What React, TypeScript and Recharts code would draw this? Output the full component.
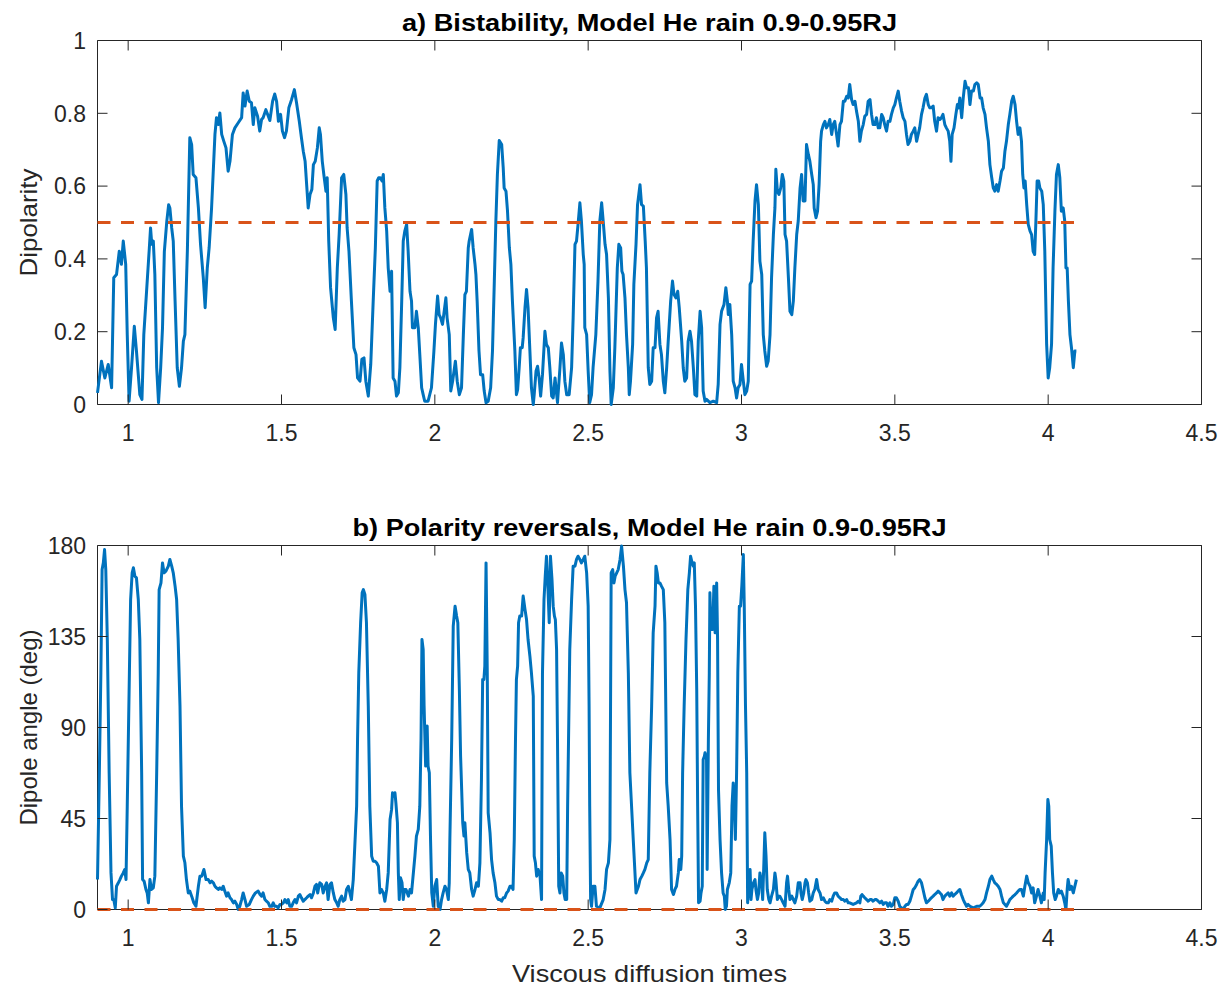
import React from 'react';
import { LineChart, Line, XAxis, YAxis, ReferenceArea } from 'recharts';

// ---- data -------------------------------------------------------------

// Dipolarity vs. time (viscous diffusion times)
const dipolaritySamples: [number, number][] = [
  [0.900,0.032],[0.913,0.119],[0.924,0.073],[0.935,0.110],[0.946,0.046],[0.953,0.348],[0.962,0.357],[0.971,0.421],[0.978,0.385],[0.984,0.449],[0.992,0.385],[0.997,0.192],[1.003,0.009],[1.011,0.101],[1.020,0.215],[1.027,0.147],[1.038,0.027],[1.045,0.014],[1.051,0.192],[1.060,0.311],[1.069,0.430],[1.073,0.485],[1.077,0.440],[1.082,0.449],[1.087,0.357],[1.093,0.101],[1.099,0.005],[1.106,0.101],[1.112,0.211],[1.118,0.421],[1.126,0.504],[1.132,0.549],[1.136,0.540],[1.142,0.485],[1.147,0.449],[1.153,0.284],[1.160,0.101],[1.167,0.050],[1.174,0.101],[1.180,0.174],[1.185,0.192],[1.193,0.421],[1.201,0.733],[1.207,0.714],[1.212,0.632],[1.221,0.623],[1.229,0.540],[1.236,0.440],[1.245,0.348],[1.251,0.266],[1.258,0.375],[1.264,0.430],[1.272,0.540],[1.277,0.632],[1.283,0.742],[1.288,0.788],[1.294,0.769],[1.299,0.801],[1.305,0.742],[1.312,0.723],[1.319,0.705],[1.326,0.641],[1.332,0.668],[1.340,0.742],[1.348,0.760],[1.359,0.774],[1.370,0.788],[1.375,0.856],[1.381,0.820],[1.388,0.861],[1.395,0.833],[1.402,0.829],[1.408,0.769],[1.413,0.815],[1.422,0.792],[1.429,0.751],[1.435,0.783],[1.440,0.788],[1.449,0.810],[1.457,0.792],[1.462,0.780],[1.471,0.833],[1.478,0.853],[1.484,0.833],[1.490,0.778],[1.497,0.797],[1.503,0.751],[1.510,0.733],[1.516,0.751],[1.524,0.815],[1.533,0.838],[1.542,0.865],[1.549,0.829],[1.558,0.778],[1.565,0.733],[1.571,0.696],[1.577,0.668],[1.582,0.604],[1.587,0.540],[1.593,0.577],[1.599,0.591],[1.604,0.659],[1.610,0.668],[1.617,0.705],[1.623,0.760],[1.627,0.742],[1.633,0.668],[1.638,0.632],[1.645,0.586],[1.649,0.623],[1.654,0.449],[1.660,0.321],[1.669,0.238],[1.675,0.206],[1.682,0.375],[1.688,0.467],[1.696,0.623],[1.703,0.632],[1.710,0.577],[1.714,0.485],[1.720,0.421],[1.728,0.284],[1.736,0.156],[1.743,0.137],[1.748,0.073],[1.756,0.064],[1.762,0.124],[1.769,0.128],[1.775,0.064],[1.783,0.023],[1.791,0.110],[1.799,0.284],[1.806,0.430],[1.812,0.614],[1.817,0.623],
  [1.822,0.623],[1.828,0.614],[1.832,0.632],[1.837,0.540],[1.843,0.476],[1.848,0.375],[1.854,0.311],[1.859,0.366],[1.864,0.073],[1.870,0.064],[1.875,0.023],[1.881,0.032],[1.886,0.101],[1.892,0.284],[1.897,0.449],[1.902,0.476],[1.908,0.495],[1.913,0.421],[1.919,0.311],[1.924,0.284],[1.927,0.211],[1.935,0.211],[1.940,0.256],[1.946,0.211],[1.951,0.137],[1.957,0.046],[1.962,0.027],[1.967,0.009],[1.978,0.009],[1.989,0.046],[1.997,0.147],[2.002,0.220],[2.009,0.298],[2.014,0.247],[2.019,0.238],[2.025,0.220],[2.032,0.266],[2.036,0.293],[2.040,0.238],[2.047,0.192],[2.052,0.037],[2.058,0.064],[2.067,0.119],[2.073,0.064],[2.080,0.027],[2.087,0.046],[2.093,0.192],[2.098,0.302],[2.103,0.311],[2.109,0.430],[2.112,0.449],[2.120,0.481],[2.125,0.430],[2.131,0.385],[2.134,0.357],[2.138,0.284],[2.144,0.147],[2.149,0.082],[2.156,0.082],[2.161,0.037],[2.167,0.005],[2.174,0.009],[2.182,0.046],[2.188,0.147],[2.194,0.339],[2.199,0.504],[2.204,0.632],[2.210,0.725],[2.218,0.714],[2.223,0.650],[2.226,0.595],[2.232,0.586],[2.237,0.531],[2.243,0.430],[2.248,0.385],[2.253,0.284],[2.261,0.147],[2.266,0.027],[2.270,0.041],[2.275,0.101],[2.279,0.156],[2.285,0.156],[2.288,0.183],[2.294,0.266],[2.299,0.316],[2.304,0.266],[2.310,0.147],[2.315,0.046],[2.321,0.000],[2.324,0.027],[2.330,0.092],[2.335,0.105],[2.340,0.073],[2.345,0.023],[2.351,0.082],[2.359,0.201],[2.364,0.165],[2.370,0.156],[2.375,0.101],[2.381,0.023],[2.386,0.018],[2.392,0.073],[2.395,0.046],[2.400,0.005],[2.408,0.101],[2.413,0.169],[2.419,0.137],[2.424,0.064],[2.430,0.027],[2.438,0.027],[2.446,0.101],[2.451,0.238],[2.457,0.440],[2.462,0.449],[2.467,0.495],[2.473,0.554],[2.478,0.504],[2.484,0.412],[2.487,0.385],[2.489,0.211],[2.495,0.192],[2.500,0.092],[2.505,0.005],[2.511,0.027],[2.516,0.101],[2.525,0.192],[2.532,0.339],[2.538,0.504],[2.544,0.554],[2.549,0.504],[2.555,0.440],[2.560,0.412],[2.566,0.293],[2.571,0.092],[2.575,0.000],[2.582,0.046],[2.587,0.156],[2.595,0.375],[2.600,0.440],[2.606,0.430],[2.610,0.366],[2.614,0.357],[2.620,0.293],[2.625,0.192],[2.631,0.101],[2.634,0.027],[2.638,0.064],[2.645,0.165],[2.649,0.330],[2.656,0.440],[2.661,0.549],[2.669,0.604],[2.674,0.549],[2.680,0.545],[2.686,0.449],[2.690,0.375],[2.696,0.101],[2.701,0.055],[2.707,0.064],[2.712,0.156],[2.718,0.156],[2.723,0.238],[2.728,0.256],
  [2.734,0.165],[2.739,0.137],[2.745,0.064],[2.750,0.032],[2.756,0.101],[2.761,0.174],[2.769,0.284],[2.775,0.339],[2.780,0.302],[2.786,0.293],[2.792,0.311],[2.797,0.266],[2.805,0.174],[2.810,0.101],[2.815,0.064],[2.821,0.073],[2.826,0.174],[2.832,0.201],[2.837,0.174],[2.843,0.101],[2.848,0.027],[2.854,0.023],[2.859,0.174],[2.865,0.256],[2.870,0.211],[2.875,0.037],[2.881,0.009],[2.886,0.014],[2.897,0.005],[2.908,0.009],[2.919,0.005],[2.924,0.055],[2.930,0.220],[2.935,0.256],[2.943,0.275],[2.949,0.321],[2.954,0.284],[2.957,0.247],[2.962,0.275],[2.968,0.192],[2.973,0.064],[2.979,0.046],[2.984,0.018],[2.989,0.046],[2.995,0.055],[3.000,0.110],[3.006,0.064],[3.011,0.027],[3.017,0.037],[3.022,0.064],[3.028,0.330],[3.033,0.339],[3.038,0.449],[3.044,0.559],[3.049,0.604],[3.055,0.549],[3.060,0.394],[3.066,0.357],[3.071,0.192],[3.076,0.147],[3.082,0.105],[3.087,0.119],[3.093,0.192],[3.098,0.348],[3.104,0.467],[3.109,0.540],[3.112,0.646],[3.117,0.586],[3.122,0.577],[3.128,0.595],[3.133,0.632],[3.138,0.614],[3.142,0.467],[3.147,0.449],[3.153,0.348],[3.158,0.256],[3.164,0.247],[3.169,0.284],[3.174,0.375],[3.180,0.467],[3.185,0.504],[3.191,0.595],[3.196,0.632],[3.201,0.559],[3.207,0.559],[3.212,0.714],[3.218,0.687],[3.223,0.668],[3.229,0.632],[3.234,0.604],[3.237,0.540],[3.243,0.513],[3.248,0.531],[3.253,0.604],[3.258,0.723],[3.261,0.751],[3.267,0.769],[3.272,0.778],[3.277,0.760],[3.283,0.769],[3.288,0.783],[3.294,0.742],[3.299,0.769],[3.304,0.778],[3.310,0.742],[3.315,0.710],[3.321,0.769],[3.326,0.778],[3.332,0.833],[3.337,0.833],[3.343,0.847],[3.348,0.842],[3.353,0.879],[3.359,0.838],[3.364,0.824],[3.370,0.833],[3.375,0.806],[3.381,0.778],[3.386,0.723],[3.391,0.751],[3.397,0.769],[3.402,0.792],[3.408,0.797],[3.413,0.833],[3.419,0.838],[3.424,0.797],[3.429,0.769],[3.435,0.769],[3.440,0.788],[3.446,0.760],[3.451,0.760],[3.457,0.797],[3.462,0.788],[3.467,0.769],[3.473,0.751],[3.478,0.778],[3.484,0.778],[3.489,0.797],[3.495,0.815],[3.500,0.824],[3.505,0.842],[3.511,0.861],[3.516,0.833],[3.522,0.806],[3.527,0.788],[3.533,0.778],[3.538,0.742],[3.543,0.714],[3.549,0.723],[3.554,0.742],[3.560,0.751],[3.565,0.760],[3.571,0.723],[3.576,0.742],[3.581,0.760],[3.587,0.797],[3.592,0.815],[3.598,0.842],[3.603,0.852],[3.609,0.824],[3.614,0.815],[3.619,0.815],[3.625,0.820],[3.630,0.778],[3.636,0.751],[3.641,0.788],
  [3.647,0.783],[3.652,0.788],[3.657,0.797],[3.663,0.769],[3.668,0.760],[3.674,0.751],[3.679,0.723],[3.683,0.668],[3.687,0.742],[3.693,0.760],[3.699,0.797],[3.704,0.824],[3.708,0.815],[3.712,0.842],[3.718,0.788],[3.723,0.842],[3.729,0.888],[3.734,0.870],[3.740,0.870],[3.745,0.824],[3.750,0.861],[3.756,0.861],[3.761,0.879],[3.767,0.884],[3.772,0.879],[3.778,0.842],[3.783,0.842],[3.788,0.815],[3.794,0.797],[3.799,0.760],[3.805,0.723],[3.810,0.659],[3.816,0.623],[3.821,0.595],[3.826,0.586],[3.832,0.604],[3.837,0.586],[3.843,0.614],[3.848,0.641],[3.854,0.650],[3.859,0.696],[3.864,0.723],[3.870,0.769],[3.875,0.797],[3.881,0.833],[3.886,0.847],[3.892,0.824],[3.897,0.778],[3.902,0.742],[3.908,0.760],[3.913,0.723],[3.917,0.632],[3.921,0.595],[3.925,0.614],[3.930,0.549],[3.935,0.495],[3.941,0.476],[3.946,0.467],[3.951,0.421],[3.956,0.412],[3.960,0.504],[3.964,0.614],[3.969,0.614],[3.973,0.595],[3.979,0.586],[3.984,0.549],[3.989,0.421],[3.995,0.165],[4.000,0.073],[4.005,0.101],[4.011,0.165],[4.016,0.375],[4.022,0.531],[4.027,0.632],[4.033,0.659],[4.038,0.623],[4.043,0.531],[4.049,0.540],[4.054,0.504],[4.058,0.375],[4.062,0.375],[4.066,0.284],[4.071,0.192],[4.076,0.156],[4.082,0.101],[4.087,0.147],[4.092,0.147],
];

// Dipole tilt angle (deg) vs. time
const angleSamples: [number, number][] = [
  [0.900,14.8],[0.906,67.6],[0.911,117.0],[0.915,168.1],[0.919,171.4],[0.923,178.0],[0.927,168.1],[0.932,133.5],[0.938,67.6],[0.944,18.1],[0.949,4.9],[0.953,4.9],[0.958,0.8],[0.962,11.5],[0.968,13.2],[0.973,14.8],[0.978,16.5],[0.984,18.1],[0.989,19.8],[0.993,14.8],[0.997,51.1],[1.004,117.0],[1.008,153.3],[1.013,166.5],[1.017,169.0],[1.022,164.8],[1.027,164.0],[1.033,153.3],[1.038,133.5],[1.044,67.6],[1.047,14.8],[1.052,14.0],[1.058,9.9],[1.062,8.2],[1.066,3.3],[1.071,14.8],[1.076,9.9],[1.082,10.7],[1.087,16.5],[1.093,67.6],[1.098,117.0],[1.101,158.2],[1.107,161.5],[1.112,171.4],[1.117,166.5],[1.123,167.3],[1.131,169.8],[1.136,173.1],[1.142,169.8],[1.147,166.5],[1.153,159.9],[1.158,153.3],[1.163,133.5],[1.169,100.6],[1.174,51.1],[1.180,26.4],[1.185,23.1],[1.190,14.8],[1.196,8.2],[1.201,9.1],[1.207,6.6],[1.214,3.3],[1.221,1.6],[1.229,11.5],[1.234,16.5],[1.240,16.5],[1.247,19.8],[1.254,14.8],[1.261,14.8],[1.267,13.2],[1.272,14.0],[1.278,13.2],[1.283,11.5],[1.288,10.7],[1.294,9.9],[1.299,10.7],[1.305,9.9],[1.310,11.5],[1.315,9.1],[1.321,6.6],[1.326,8.2],[1.332,5.8],[1.337,4.9],[1.343,3.3],[1.348,4.1],[1.354,2.5],[1.359,0],[1.364,1.6],[1.370,4.9],[1.375,8.2],[1.381,4.9],[1.386,1.6],[1.395,2.5],[1.402,4.9],[1.408,6.6],[1.415,8.2],[1.424,9.1],[1.430,7.4],[1.435,6.6],[1.440,8.2],[1.446,4.9],[1.451,4.1],[1.457,3.3],[1.462,1.6],[1.468,1.6],[1.473,3.3],[1.478,1.6],[1.484,1.6],[1.489,0.8],[1.495,2.5],[1.500,2.5],[1.506,3.3],[1.511,4.9],[1.517,3.3],[1.522,4.9],[1.527,1.6],[1.533,1.6],[1.538,3.3],[1.544,4.9],[1.549,3.3],[1.555,6.6],[1.560,7.4],[1.565,5.8],[1.571,4.1],[1.576,4.9],[1.582,5.8],[1.587,6.6],[1.593,7.4],[1.598,5.8],[1.604,8.2],[1.609,11.5],[1.614,12.4],[1.618,8.2],[1.621,10.7],[1.625,13.2],[1.631,12.4],[1.636,8.2],[1.642,11.5],[1.647,13.2],[1.652,4.9],[1.658,12.4],[1.663,13.2],[1.669,8.2],[1.674,4.9],[1.680,3.3],[1.685,1.6],[1.690,4.9],[1.696,6.6],[1.701,4.1],[1.707,4.9],[1.712,9.9],[1.718,11.5],[1.723,8.2],[1.728,4.9],[1.734,14.8],[1.739,31.3],[1.745,51.1],[1.748,84.1],[1.752,117.0],[1.758,141.8],[1.763,156.6],[1.767,158.2],[1.772,155.8],[1.777,141.8],[1.783,100.6],[1.788,51.1],[1.794,26.4],[1.799,23.9],[1.805,23.9],[1.810,23.1],[1.816,21.4],[1.821,8.2],
  [1.826,9.9],[1.832,8.2],[1.837,4.1],[1.843,9.9],[1.848,18.1],[1.854,44.5],[1.859,49.5],[1.862,57.7],[1.867,56.0],[1.870,57.7],[1.873,52.7],[1.878,42.9],[1.881,18.1],[1.884,4.9],[1.888,15.7],[1.893,13.2],[1.897,4.9],[1.901,9.9],[1.906,9.9],[1.910,8.2],[1.914,6.6],[1.919,9.9],[1.924,8.2],[1.930,18.1],[1.935,26.4],[1.940,36.3],[1.946,39.6],[1.951,51.1],[1.955,84.1],[1.958,133.5],[1.962,128.6],[1.965,100.6],[1.970,70.9],[1.975,90.7],[1.978,70.9],[1.982,67.6],[1.986,34.6],[1.990,8.2],[1.995,1.6],[2.000,11.5],[2.006,14.8],[2.011,1.6],[2.017,0],[2.022,4.9],[2.027,8.2],[2.033,11.5],[2.038,9.9],[2.044,4.9],[2.047,13.2],[2.049,34.6],[2.055,84.1],[2.060,140.1],[2.066,150.0],[2.071,145.1],[2.075,141.8],[2.080,108.8],[2.084,75.8],[2.091,42.9],[2.095,36.3],[2.098,42.9],[2.104,28.0],[2.109,19.8],[2.114,18.1],[2.120,9.9],[2.125,6.6],[2.131,9.9],[2.136,13.2],[2.142,11.5],[2.147,23.1],[2.152,64.3],[2.156,113.7],[2.160,113.7],[2.163,120.3],[2.167,171.4],[2.171,117.0],[2.174,47.8],[2.180,37.9],[2.185,24.7],[2.190,18.1],[2.196,13.2],[2.201,6.6],[2.207,4.9],[2.212,4.9],[2.218,4.1],[2.223,5.8],[2.228,5.8],[2.234,8.2],[2.239,9.1],[2.245,11.5],[2.250,11.5],[2.255,9.9],[2.259,34.6],[2.263,84.1],[2.266,113.7],[2.270,120.3],[2.273,141.8],[2.277,145.1],[2.283,145.1],[2.288,155.0],[2.294,148.4],[2.299,143.4],[2.304,133.5],[2.310,125.3],[2.315,117.0],[2.321,105.5],[2.324,26.4],[2.328,23.1],[2.332,16.5],[2.337,19.8],[2.343,16.5],[2.348,4.9],[2.351,117.0],[2.356,153.3],[2.360,164.8],[2.364,174.7],[2.369,158.2],[2.373,141.8],[2.377,174.7],[2.382,163.2],[2.386,150.0],[2.390,145.1],[2.393,143.4],[2.397,128.6],[2.400,84.1],[2.404,11.5],[2.408,8.2],[2.412,18.1],[2.417,16.5],[2.421,8.2],[2.425,4.9],[2.430,4.9],[2.433,51.1],[2.436,84.1],[2.440,128.6],[2.446,153.3],[2.451,169.8],[2.457,169.8],[2.462,173.1],[2.467,174.7],[2.473,173.1],[2.478,171.4],[2.484,173.1],[2.489,174.7],[2.495,166.5],[2.500,150.0],[2.503,100.6],[2.505,51.1],[2.508,4.9],[2.511,1.6],[2.516,11.5],[2.522,11.5],[2.527,1.6],[2.538,0.8],[2.549,4.9],[2.555,9.9],[2.560,19.8],[2.566,23.1],[2.571,34.6],[2.575,166.5],[2.580,168.1],[2.584,161.5],[2.588,164.8],[2.593,166.5],[2.598,168.1],[2.604,173.1],[2.609,179.7],[2.615,169.8],[2.620,158.2],[2.625,151.7],[2.631,117.0],[2.636,67.6],[2.647,34.6],[2.656,8.2],[2.664,11.5],[2.669,14.8],[2.675,16.5],[2.680,18.1],[2.685,19.8],[2.691,23.1],[2.696,24.7],[2.701,67.6],[2.707,100.6],[2.712,136.8],[2.718,150.0],[2.721,169.8],[2.725,166.5],[2.729,161.5],[2.734,161.5],
  [2.739,159.9],[2.745,158.2],[2.750,141.8],[2.756,62.6],[2.761,51.1],[2.767,34.6],[2.772,9.9],[2.778,7.4],[2.783,9.9],[2.788,11.5],[2.794,18.1],[2.797,24.7],[2.802,19.8],[2.805,26.4],[2.808,67.6],[2.813,100.6],[2.819,133.5],[2.825,158.2],[2.830,166.5],[2.834,174.7],[2.839,171.4],[2.843,169.8],[2.846,171.4],[2.850,150.0],[2.854,108.8],[2.857,51.1],[2.860,3.3],[2.865,4.1],[2.868,8.2],[2.872,11.5],[2.875,74.2],[2.879,75.8],[2.881,77.5],[2.886,74.2],[2.888,19.8],[2.892,84.1],[2.895,117.0],[2.897,156.6],[2.900,138.5],[2.904,140.1],[2.906,138.5],[2.910,159.9],[2.914,136.8],[2.919,161.5],[2.922,133.5],[2.925,59.3],[2.930,34.6],[2.935,18.1],[2.940,8.2],[2.944,6.6],[2.947,0],[2.951,1.6],[2.954,9.9],[2.960,13.2],[2.965,18.1],[2.969,51.1],[2.973,62.6],[2.976,54.4],[2.980,34.6],[2.984,67.6],[2.988,117.0],[2.993,150.0],[2.997,150.0],[3.001,159.9],[3.006,175.5],[3.009,150.0],[3.013,100.6],[3.017,67.6],[3.020,3.3],[3.025,18.1],[3.028,19.8],[3.031,4.9],[3.034,9.9],[3.039,13.2],[3.044,14.8],[3.047,9.9],[3.052,4.9],[3.056,8.2],[3.060,18.1],[3.066,13.2],[3.069,4.9],[3.073,23.1],[3.076,37.9],[3.080,26.4],[3.084,9.9],[3.089,4.9],[3.093,3.3],[3.098,6.6],[3.104,9.9],[3.109,18.1],[3.112,14.8],[3.117,4.9],[3.121,6.6],[3.125,6.6],[3.131,4.9],[3.136,3.3],[3.142,1.6],[3.147,13.2],[3.150,16.5],[3.154,9.9],[3.158,4.9],[3.164,6.6],[3.169,4.9],[3.174,3.3],[3.180,6.6],[3.185,13.2],[3.191,13.2],[3.194,8.2],[3.198,4.9],[3.203,8.2],[3.207,13.2],[3.210,14.8],[3.215,13.2],[3.219,8.2],[3.223,4.1],[3.229,4.9],[3.234,8.2],[3.239,9.9],[3.245,14.8],[3.250,9.9],[3.256,8.2],[3.261,4.9],[3.267,5.8],[3.272,4.1],[3.277,3.3],[3.283,3.3],[3.288,4.9],[3.294,4.1],[3.299,6.6],[3.304,8.2],[3.310,8.2],[3.315,6.6],[3.321,5.8],[3.326,4.9],[3.332,4.9],[3.337,4.1],[3.343,4.9],[3.348,3.3],[3.353,3.3],[3.364,2.5],[3.375,3.3],[3.381,4.1],[3.386,3.3],[3.389,6.6],[3.393,7.4],[3.397,6.6],[3.402,5.8],[3.408,4.9],[3.413,4.1],[3.419,4.9],[3.424,4.9],[3.429,4.1],[3.435,4.9],[3.440,4.9],[3.446,4.1],[3.451,3.3],[3.457,4.1],[3.462,2.5],[3.467,3.3],[3.473,3.3],[3.478,1.6],[3.484,3.3],[3.489,1.6],[3.495,2.5],[3.500,5.8],[3.505,5.8],[3.511,4.1],[3.516,1.6],[3.522,0.8],[3.527,0],[3.533,1.6],[3.538,2.5],[3.543,2.5],[3.549,4.1],[3.554,6.6],[3.560,9.9],[3.565,10.7],[3.571,12.4],[3.576,14.0],[3.581,14.8],[3.587,13.2],[3.592,9.9],[3.598,5.8],[3.603,3.3],[3.609,4.1],[3.614,4.9],[3.619,5.8],[3.625,6.6],[3.630,7.4],[3.636,8.2],[3.641,9.1],
  [3.647,8.2],[3.652,7.4],[3.657,4.9],[3.663,6.6],[3.668,7.4],[3.674,8.2],[3.679,6.6],[3.685,8.2],[3.690,6.6],[3.695,7.4],[3.701,8.2],[3.706,9.1],[3.712,9.9],[3.717,7.4],[3.723,4.9],[3.728,3.3],[3.734,1.6],[3.739,2.5],[3.745,1.6],[3.756,0.8],[3.767,1.6],[3.777,1.6],[3.783,2.5],[3.788,3.3],[3.794,4.9],[3.799,8.2],[3.805,11.5],[3.810,14.8],[3.816,16.5],[3.821,14.8],[3.826,13.2],[3.832,12.4],[3.837,11.5],[3.843,9.9],[3.848,6.6],[3.854,3.3],[3.859,2.5],[3.864,1.6],[3.870,3.3],[3.875,4.9],[3.881,5.8],[3.886,6.6],[3.892,7.4],[3.897,8.2],[3.902,9.1],[3.908,9.9],[3.913,9.9],[3.919,6.6],[3.924,11.5],[3.930,16.5],[3.935,13.2],[3.941,11.5],[3.946,8.2],[3.951,10.7],[3.956,3.3],[3.962,6.6],[3.967,9.9],[3.973,6.6],[3.978,3.3],[3.984,8.2],[3.987,4.9],[3.990,18.1],[3.995,34.6],[3.999,54.4],[4.002,51.1],[4.005,34.6],[4.010,31.3],[4.014,18.1],[4.018,8.2],[4.023,4.9],[4.027,6.6],[4.033,9.9],[4.038,8.2],[4.043,9.1],[4.049,6.6],[4.054,3.3],[4.058,0],[4.062,9.9],[4.065,14.8],[4.071,9.9],[4.076,11.5],[4.082,8.2],[4.087,11.5],[4.092,14.8],
];

const timeDomain: [number, number] = [0.9, 4.5];
const timeTicks = [1, 1.5, 2, 2.5, 3, 3.5, 4, 4.5];
const dipolarityDomain: [number, number] = [0, 1];
const dipolarityTicks = [0, 0.2, 0.4, 0.6, 0.8, 1];
const angleDomain: [number, number] = [0, 180];
const angleTicks = [0, 45, 90, 135, 180];
const thresholdTimes = [0.9, 4.1];
const dipolarityThreshold = 0.5;
const angleThreshold = 0;

const dipolarityData = dipolaritySamples.map(([t, v]) => ({ t, v }));
const angleData = angleSamples.map(([t, v]) => ({ t, v }));
const dipolarityThresholdData = thresholdTimes.map((t) => ({ t, v: dipolarityThreshold }));
const angleThresholdData = thresholdTimes.map((t) => ({ t, v: angleThreshold }));

// ---- styling ----------------------------------------------------------

const CHART_W = 1225;
const CHART_H = 450;
const PLOT_H = 364;
const MARGIN = { top: 40.5, right: 23.5, left: 37.5, bottom: CHART_H - 40.5 - PLOT_H - 30 };
const PLOT_W = CHART_W - MARGIN.left - 60 - MARGIN.right;
const TICK_LEN = 10;
const INK = '#262626';
const BLUE = '#0072BD';
const ORANGE = '#D95319';
const FONT = '"Liberation Sans", Arial, Helvetica, sans-serif';

// Inward-pointing ticks on both the bottom and top edges, with the label below
const TimeTick = (props: any) => {
  const { x, y, payload } = props;
  return (
    <g>
      <line x1={x} y1={y} x2={x} y2={y - TICK_LEN} stroke={INK} strokeWidth={1} />
      <line x1={x} y1={y - PLOT_H} x2={x} y2={y - PLOT_H + TICK_LEN} stroke={INK} strokeWidth={1} />
      <text x={x} y={y + 36.5} textAnchor="middle" fontSize={23} fill={INK} fontFamily={FONT}>
        {String(payload.value)}
      </text>
    </g>
  );
};

// Inward-pointing ticks on both the left and right edges, with the label at left
const ValueTick = (props: any) => {
  const { x, y, payload } = props;
  return (
    <g>
      <line x1={x} y1={y} x2={x + TICK_LEN} y2={y} stroke={INK} strokeWidth={1} />
      <line x1={x + PLOT_W} y1={y} x2={x + PLOT_W - TICK_LEN} y2={y} stroke={INK} strokeWidth={1} />
      <text x={x - 11.5} y={y + 8.2} textAnchor="end" fontSize={23} fill={INK} fontFamily={FONT}>
        {String(payload.value)}
      </text>
    </g>
  );
};

type PanelProps = {
  data: { t: number; v: number }[];
  threshold: { t: number; v: number }[];
  domain: [number, number];
  ticks: number[];
};

const Panel = ({ data, threshold, domain, ticks }: PanelProps) => (
  <LineChart width={CHART_W} height={CHART_H} data={data} margin={MARGIN}>
    <XAxis
      dataKey="t"
      type="number"
      domain={timeDomain}
      ticks={timeTicks}
      interval={0}
      axisLine={false}
      tickLine={false}
      tickSize={0}
      tickMargin={0}
      height={30}
      tick={<TimeTick />}
    />
    <YAxis
      dataKey="v"
      type="number"
      domain={domain}
      ticks={ticks}
      interval={0}
      axisLine={false}
      tickLine={false}
      tickSize={0}
      tickMargin={0}
      width={60}
      tick={<ValueTick />}
    />
    <ReferenceArea
      x1={timeDomain[0]}
      x2={timeDomain[1]}
      y1={domain[0]}
      y2={domain[1]}
      fill="none"
      fillOpacity={0}
      stroke={INK}
      strokeWidth={1}
    />
    <Line
      dataKey="v"
      stroke={BLUE}
      strokeWidth={3}
      dot={false}
      activeDot={false}
      isAnimationActive={false}
      strokeLinejoin="round"
    />
    <Line
      data={threshold}
      dataKey="v"
      stroke={ORANGE}
      strokeWidth={3}
      strokeDasharray="13 10.5"
      dot={false}
      activeDot={false}
      isAnimationActive={false}
    />
  </LineChart>
);

export default function App() {
  const cx = MARGIN.left + 60 + PLOT_W / 2;
  return (
    <div
      style={{
        position: 'absolute',
        left: 0,
        top: 0,
        width: CHART_W,
        height: 987,
        background: '#fff',
        fontFamily: FONT,
      }}
    >
      <div style={{ position: 'absolute', left: 0, top: 0 }}>
        <Panel data={dipolarityData} threshold={dipolarityThresholdData} domain={dipolarityDomain} ticks={dipolarityTicks} />
      </div>
      <div style={{ position: 'absolute', left: 0, top: 505 }}>
        <Panel data={angleData} threshold={angleThresholdData} domain={angleDomain} ticks={angleTicks} />
      </div>
      <svg
        width={CHART_W}
        height={987}
        style={{ position: 'absolute', left: 0, top: 0, pointerEvents: 'none' }}
        fontFamily={FONT}
        fill="#000"
      >
        <text x={cx} y={30.7} textAnchor="middle" fontSize={24} fontWeight="bold" textLength={495} lengthAdjust="spacingAndGlyphs">
          a) Bistability, Model He rain 0.9-0.95RJ
        </text>
        <text x={cx} y={536} textAnchor="middle" fontSize={24} fontWeight="bold" textLength={594} lengthAdjust="spacingAndGlyphs">
          b) Polarity reversals, Model He rain 0.9-0.95RJ
        </text>
        <text x={cx} y={981.5} textAnchor="middle" fontSize={24} fill={INK} textLength={275} lengthAdjust="spacingAndGlyphs">
          Viscous diffusion times
        </text>
        <text
          x={0}
          y={0}
          transform={`translate(37, ${40.5 + PLOT_H / 2}) rotate(-90)`}
          textAnchor="middle"
          fontSize={24}
          fill={INK}
          textLength={108}
          lengthAdjust="spacingAndGlyphs"
        >
          Dipolarity
        </text>
        <text
          x={0}
          y={0}
          transform={`translate(37, ${545.5 + PLOT_H / 2}) rotate(-90)`}
          textAnchor="middle"
          fontSize={24}
          fill={INK}
        >
          Dipole angle (deg)
        </text>
      </svg>
    </div>
  );
}
